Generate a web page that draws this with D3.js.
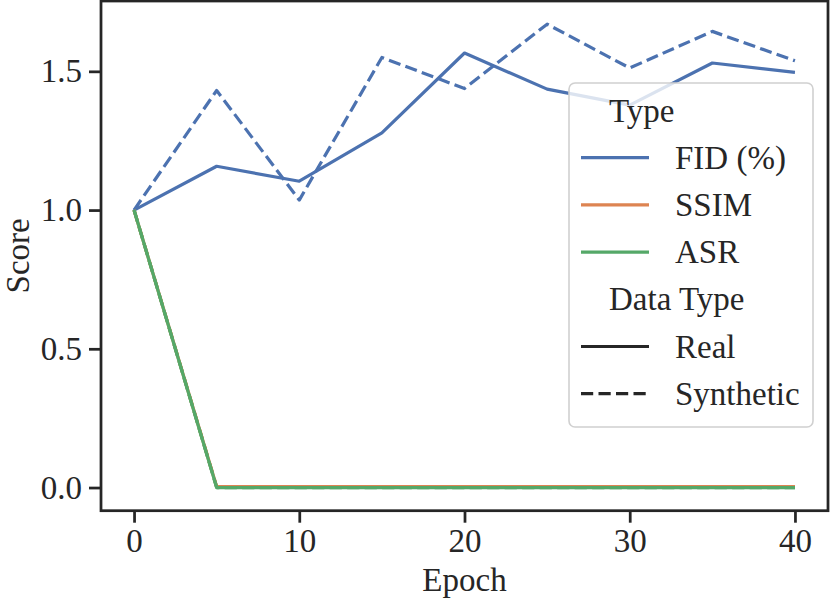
<!DOCTYPE html>
<html>
<head>
<meta charset="utf-8">
<script src="https://cdn.jsdelivr.net/npm/d3@7"></script>
<style>
    body { margin: 0; background: white; }
    svg { display: block; font-family: "Liberation Serif", "Times New Roman", serif; }
</style>
</head>
<body>
<script>
// values
const epochs = [0, 5, 10, 15, 20, 25, 30, 35, 40];
const fidReal = [1.0, 1.158, 1.104, 1.278, 1.566, 1.436, 1.378, 1.530, 1.496];
const fidSynthetic = [1.0, 1.431, 1.036, 1.550, 1.438, 1.670, 1.512, 1.644, 1.538];
const ssimReal = [1.0, 0.003, 0.003, 0.003, 0.003, 0.003, 0.003, 0.003, 0.003];
const ssimSynthetic = [1.0, 0.003, 0.003, 0.003, 0.003, 0.003, 0.003, 0.003, 0.003];
const asrReal = [1.0, 0, 0, 0, 0, 0, 0, 0, 0];
const asrSynthetic = [1.0, 0, 0, 0, 0, 0, 0, 0, 0];
const xTicks = [0, 10, 20, 30, 40];
const yTicks = [0.0, 0.5, 1.0, 1.5];

const typeNames = ['FID (%)', 'SSIM', 'ASR'];
const dataTypes = ['Real', 'Synthetic'];
const colors = ['#4c72b0', '#dd8452', '#55a868'];

const width = 830;
const height = 601;
const plotLeft = 101, plotRight = 828, plotTop = 1, plotBottom = 510.7;
const fontSize = 33;
const ink = '#262626';
const dash = '12.2,5.3';

const series = [
    {type: 0, style: 0, values: fidReal},
    {type: 0, style: 1, values: fidSynthetic},
    {type: 1, style: 0, values: ssimReal},
    {type: 1, style: 1, values: ssimSynthetic},
    {type: 2, style: 0, values: asrReal},
    {type: 2, style: 1, values: asrSynthetic}
];

let svg = d3.select('body')
    .append('svg')
    .attr('width', width)
    .attr('height', height);

// matplotlib style 5% margins
const allY = series.flatMap(s => s.values);
const yMin = d3.min(allY), yMax = d3.max(allY);
const yPad = (yMax - yMin) * 0.05;
const xPad = (d3.max(epochs) - d3.min(epochs)) * 0.05;

const x = d3.scaleLinear()
    .domain([d3.min(epochs) - xPad, d3.max(epochs) + xPad])
    .range([plotLeft, plotRight]);
const y = d3.scaleLinear()
    .domain([yMin - yPad, yMax + yPad])
    .range([plotBottom, plotTop]);

// lines
const line = d3.line()
    .x((d, i) => x(epochs[i]))
    .y((d) => y(d));

svg.append('g')
    .selectAll('path')
    .data(series)
    .join('path')
    .attr('d', (d) => line(d.values))
    .attr('fill', 'none')
    .attr('stroke', (d) => colors[d.type])
    .attr('stroke-width', 3.2)
    .attr('stroke-linejoin', 'round')
    .attr('stroke-linecap', 'butt')
    .attr('stroke-dasharray', (d) => d.style ? dash : null);

// axes
const xAxis = svg.append('g')
    .attr('transform', `translate(0, ${plotBottom})`)
    .call(d3.axisBottom(x).tickValues(xTicks).tickFormat(d3.format('d')).tickSize(12).tickPadding(6));
const yAxis = svg.append('g')
    .attr('transform', `translate(${plotLeft}, 0)`)
    .call(d3.axisLeft(y).tickValues(yTicks).tickFormat(d3.format('.1f')).tickSize(12).tickPadding(7));

[xAxis, yAxis].forEach(function(ax) {
    ax.select('.domain').remove();
    ax.selectAll('line').attr('stroke', ink).attr('stroke-width', 2.75);
    ax.selectAll('text')
        .attr('fill', ink)
        .style('font-family', '"Liberation Serif", serif')
        .style('font-size', fontSize + 'px');
});

// frame
svg.append('rect')
    .attr('x', plotLeft)
    .attr('y', plotTop)
    .attr('width', plotRight - plotLeft)
    .attr('height', plotBottom - plotTop)
    .attr('fill', 'none')
    .attr('stroke', ink)
    .attr('stroke-width', 2.75);

// axis labels
svg.append('text')
    .attr('x', (plotLeft + plotRight) / 2)
    .attr('y', 591)
    .attr('text-anchor', 'middle')
    .attr('fill', ink)
    .style('font-size', fontSize + 'px')
    .text('Epoch');

svg.append('text')
    .attr('transform', `translate(29, ${(plotTop + plotBottom) / 2}) rotate(-90)`)
    .attr('text-anchor', 'middle')
    .attr('fill', ink)
    .style('font-size', fontSize + 'px')
    .text('Score');

// legend
const lg = svg.append('g');
lg.append('rect')
    .attr('x', 569)
    .attr('y', 83)
    .attr('width', 244)
    .attr('height', 344)
    .attr('rx', 6)
    .attr('fill', 'white')
    .attr('fill-opacity', 0.8)
    .attr('stroke', '#d0d0d0')
    .attr('stroke-width', 1.6);

const rowH = 47.2;
const firstRow = 110.5;
let rows = [{title: 'Type'}];
typeNames.forEach((n, i) => rows.push({label: n, color: colors[i], dash: null}));
rows.push({title: 'Data Type'});
dataTypes.forEach((n, i) => rows.push({label: n, color: ink, dash: i ? dash : null}));

rows.forEach(function(r, i) {
    const cy = firstRow + i * rowH;
    if (r.title) {
        lg.append('text')
            .attr('x', 609)
            .attr('y', cy + 11)
            .attr('fill', ink)
            .style('font-size', fontSize + 'px')
            .text(r.title);
    } else {
        lg.append('line')
            .attr('x1', 581)
            .attr('x2', 649)
            .attr('y1', cy)
            .attr('y2', cy)
            .attr('stroke', r.color)
            .attr('stroke-width', 3.2)
            .attr('stroke-dasharray', r.dash);
        lg.append('text')
            .attr('x', 675)
            .attr('y', cy + 11)
            .attr('fill', ink)
            .style('font-size', fontSize + 'px')
            .text(r.label);
    }
});
</script>
</body>
</html>
